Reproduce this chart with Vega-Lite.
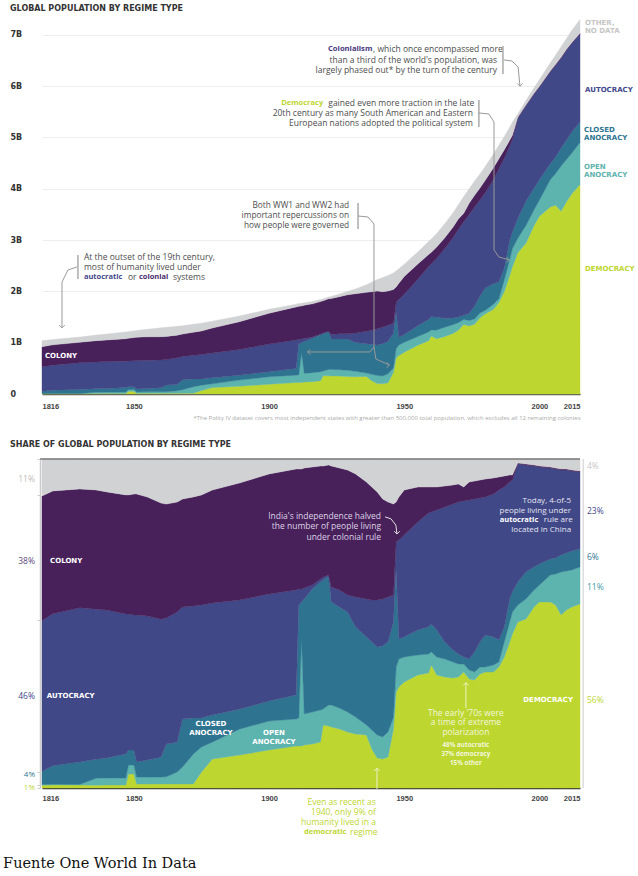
{
"$schema": "https://vega.github.io/schema/vega-lite/v6.json",
"padding": {"left": 3, "top": 4, "right": 0, "bottom": 0},
"config": {"view": {"stroke": null}, "font": "Open Sans"},
"spacing": 65,
"bounds": "flush",
"datasets": {
"regimes": [{"regime":"Democracy","rank":1},{"regime":"Open anocracy","rank":2},{"regime":"Closed anocracy","rank":3},{"regime":"Autocracy","rank":4},{"regime":"Colony","rank":5},{"regime":"Other","rank":6}],
"pop": [
{"year":1816,"regime":"Democracy","pop":9},{"year":1816,"regime":"Open anocracy","pop":2},{"year":1816,"regime":"Closed anocracy","pop":41},{"year":1816,"regime":"Autocracy","pop":477},{"year":1816,"regime":"Colony","pop":394},{"year":1816,"regime":"Other","pop":117},
{"year":1820,"regime":"Democracy","pop":10},{"year":1820,"regime":"Open anocracy","pop":2},{"year":1820,"regime":"Closed anocracy","pop":60},{"year":1820,"regime":"Autocracy","pop":490},{"year":1820,"regime":"Colony","pop":396},{"year":1820,"regime":"Other","pop":103},
{"year":1830,"regime":"Democracy","pop":10},{"year":1830,"regime":"Open anocracy","pop":2},{"year":1830,"regime":"Closed anocracy","pop":76},{"year":1830,"regime":"Autocracy","pop":520},{"year":1830,"regime":"Colony","pop":401},{"year":1830,"regime":"Other","pop":101},
{"year":1836,"regime":"Democracy","pop":10},{"year":1836,"regime":"Open anocracy","pop":24},{"year":1836,"regime":"Closed anocracy","pop":66},{"year":1836,"regime":"Autocracy","pop":524},{"year":1836,"regime":"Colony","pop":416},{"year":1836,"regime":"Other","pop":108},
{"year":1840,"regime":"Democracy","pop":11},{"year":1840,"regime":"Open anocracy","pop":25},{"year":1840,"regime":"Closed anocracy","pop":71},{"year":1840,"regime":"Autocracy","pop":526},{"year":1840,"regime":"Colony","pop":420},{"year":1840,"regime":"Other","pop":117},
{"year":1847,"regime":"Democracy","pop":11},{"year":1847,"regime":"Open anocracy","pop":26},{"year":1847,"regime":"Closed anocracy","pop":88},{"year":1847,"regime":"Autocracy","pop":515},{"year":1847,"regime":"Colony","pop":438},{"year":1847,"regime":"Other","pop":132},
{"year":1848,"regime":"Democracy","pop":52},{"year":1848,"regime":"Open anocracy","pop":33},{"year":1848,"regime":"Closed anocracy","pop":56},{"year":1848,"regime":"Autocracy","pop":504},{"year":1848,"regime":"Colony","pop":441},{"year":1848,"regime":"Other","pop":133},
{"year":1850,"regime":"Democracy","pop":52},{"year":1850,"regime":"Open anocracy","pop":34},{"year":1850,"regime":"Closed anocracy","pop":56},{"year":1850,"regime":"Autocracy","pop":505},{"year":1850,"regime":"Colony","pop":452},{"year":1850,"regime":"Other","pop":131},
{"year":1851,"regime":"Democracy","pop":15},{"year":1851,"regime":"Open anocracy","pop":26},{"year":1851,"regime":"Closed anocracy","pop":57},{"year":1851,"regime":"Autocracy","pop":554},{"year":1851,"regime":"Colony","pop":456},{"year":1851,"regime":"Other","pop":132},
{"year":1855,"regime":"Democracy","pop":15},{"year":1855,"regime":"Open anocracy","pop":27},{"year":1855,"regime":"Closed anocracy","pop":65},{"year":1855,"regime":"Autocracy","pop":552},{"year":1855,"regime":"Colony","pop":456},{"year":1855,"regime":"Other","pop":146},
{"year":1860,"regime":"Democracy","pop":16},{"year":1860,"regime":"Open anocracy","pop":27},{"year":1860,"regime":"Closed anocracy","pop":78},{"year":1860,"regime":"Autocracy","pop":541},{"year":1860,"regime":"Colony","pop":455},{"year":1860,"regime":"Other","pop":173},
{"year":1862,"regime":"Democracy","pop":16},{"year":1862,"regime":"Open anocracy","pop":28},{"year":1862,"regime":"Closed anocracy","pop":130},{"year":1862,"regime":"Autocracy","pop":498},{"year":1862,"regime":"Colony","pop":450},{"year":1862,"regime":"Other","pop":178},
{"year":1866,"regime":"Democracy","pop":16},{"year":1866,"regime":"Open anocracy","pop":48},{"year":1866,"regime":"Closed anocracy","pop":120},{"year":1866,"regime":"Autocracy","pop":522},{"year":1866,"regime":"Colony","pop":441},{"year":1866,"regime":"Other","pop":173},
{"year":1868,"regime":"Democracy","pop":16},{"year":1868,"regime":"Open anocracy","pop":69},{"year":1868,"regime":"Closed anocracy","pop":194},{"year":1868,"regime":"Autocracy","pop":453},{"year":1868,"regime":"Colony","pop":437},{"year":1868,"regime":"Other","pop":162},
{"year":1872,"regime":"Democracy","pop":17},{"year":1872,"regime":"Open anocracy","pop":124},{"year":1872,"regime":"Closed anocracy","pop":149},{"year":1872,"regime":"Autocracy","pop":463},{"year":1872,"regime":"Colony","pop":451},{"year":1872,"regime":"Other","pop":157},
{"year":1875,"regime":"Democracy","pop":67},{"year":1875,"regime":"Open anocracy","pop":105},{"year":1875,"regime":"Closed anocracy","pop":122},{"year":1875,"regime":"Autocracy","pop":474},{"year":1875,"regime":"Colony","pop":461},{"year":1875,"regime":"Other","pop":151},
{"year":1879,"regime":"Democracy","pop":125},{"year":1879,"regime":"Open anocracy","pop":73},{"year":1879,"regime":"Closed anocracy","pop":117},{"year":1879,"regime":"Autocracy","pop":483},{"year":1879,"regime":"Colony","pop":488},{"year":1879,"regime":"Other","pop":134},
{"year":1889,"regime":"Democracy","pop":152},{"year":1889,"regime":"Open anocracy","pop":120},{"year":1889,"regime":"Closed anocracy","pop":92},{"year":1889,"regime":"Autocracy","pop":504},{"year":1889,"regime":"Colony","pop":541},{"year":1889,"regime":"Other","pop":111},
{"year":1900,"regime":"Democracy","pop":191},{"year":1900,"regime":"Open anocracy","pop":145},{"year":1900,"regime":"Closed anocracy","pop":100},{"year":1900,"regime":"Autocracy","pop":537},{"year":1900,"regime":"Colony","pop":602},{"year":1900,"regime":"Other","pop":75},
{"year":1910,"regime":"Democracy","pop":223},{"year":1910,"regime":"Open anocracy","pop":144},{"year":1910,"regime":"Closed anocracy","pop":128},{"year":1910,"regime":"Autocracy","pop":559},{"year":1910,"regime":"Colony","pop":644},{"year":1910,"regime":"Other","pop":53},
{"year":1911,"regime":"Democracy","pop":225},{"year":1911,"regime":"Open anocracy","pop":150},{"year":1911,"regime":"Closed anocracy","pop":605},{"year":1911,"regime":"Autocracy","pop":86},{"year":1911,"regime":"Colony","pop":642},{"year":1911,"regime":"Other","pop":54},
{"year":1912,"regime":"Democracy","pop":226},{"year":1912,"regime":"Open anocracy","pop":576},{"year":1912,"regime":"Closed anocracy","pop":199},{"year":1912,"regime":"Autocracy","pop":70},{"year":1912,"regime":"Colony","pop":646},{"year":1912,"regime":"Other","pop":54},
{"year":1913,"regime":"Democracy","pop":233},{"year":1913,"regime":"Open anocracy","pop":168},{"year":1913,"regime":"Closed anocracy","pop":622},{"year":1913,"regime":"Autocracy","pop":60},{"year":1913,"regime":"Colony","pop":649},{"year":1913,"regime":"Other","pop":49},
{"year":1916,"regime":"Democracy","pop":241},{"year":1916,"regime":"Open anocracy","pop":175},{"year":1916,"regime":"Closed anocracy","pop":673},{"year":1916,"regime":"Autocracy","pop":22},{"year":1916,"regime":"Colony","pop":646},{"year":1916,"regime":"Other","pop":44},
{"year":1919,"regime":"Democracy","pop":257},{"year":1919,"regime":"Open anocracy","pop":179},{"year":1919,"regime":"Closed anocracy","pop":716},{"year":1919,"regime":"Autocracy","pop":17},{"year":1919,"regime":"Colony","pop":632},{"year":1919,"regime":"Other","pop":39},
{"year":1920,"regime":"Democracy","pop":356},{"year":1920,"regime":"Open anocracy","pop":90},{"year":1920,"regime":"Closed anocracy","pop":729},{"year":1920,"regime":"Autocracy","pop":17},{"year":1920,"regime":"Colony","pop":627},{"year":1920,"regime":"Other","pop":40},
{"year":1922,"regime":"Democracy","pop":356},{"year":1922,"regime":"Open anocracy","pop":121},{"year":1922,"regime":"Closed anocracy","pop":741},{"year":1922,"regime":"Autocracy","pop":6},{"year":1922,"regime":"Colony","pop":632},{"year":1922,"regime":"Other","pop":34},
{"year":1923,"regime":"Democracy","pop":352},{"year":1923,"regime":"Open anocracy","pop":127},{"year":1923,"regime":"Closed anocracy","pop":595},{"year":1923,"regime":"Autocracy","pop":87},{"year":1923,"regime":"Colony","pop":699},{"year":1923,"regime":"Other","pop":40},
{"year":1926,"regime":"Democracy","pop":350},{"year":1926,"regime":"Open anocracy","pop":124},{"year":1926,"regime":"Closed anocracy","pop":599},{"year":1926,"regime":"Autocracy","pop":101},{"year":1926,"regime":"Colony","pop":723},{"year":1926,"regime":"Other","pop":53},
{"year":1929,"regime":"Democracy","pop":340},{"year":1929,"regime":"Open anocracy","pop":122},{"year":1929,"regime":"Closed anocracy","pop":608},{"year":1929,"regime":"Autocracy","pop":103},{"year":1929,"regime":"Colony","pop":760},{"year":1929,"regime":"Other","pop":67},
{"year":1932,"regime":"Democracy","pop":336},{"year":1932,"regime":"Open anocracy","pop":106},{"year":1932,"regime":"Closed anocracy","pop":561},{"year":1932,"regime":"Autocracy","pop":187},{"year":1932,"regime":"Colony","pop":766},{"year":1932,"regime":"Other","pop":93},
{"year":1936,"regime":"Democracy","pop":343},{"year":1936,"regime":"Open anocracy","pop":65},{"year":1936,"regime":"Closed anocracy","pop":570},{"year":1936,"regime":"Autocracy","pop":246},{"year":1936,"regime":"Colony","pop":757},{"year":1936,"regime":"Other","pop":149},
{"year":1938,"regime":"Democracy","pop":258},{"year":1938,"regime":"Open anocracy","pop":126},{"year":1938,"regime":"Closed anocracy","pop":583},{"year":1938,"regime":"Autocracy","pop":278},{"year":1938,"regime":"Colony","pop":749},{"year":1938,"regime":"Other","pop":186},
{"year":1940,"regime":"Democracy","pop":203},{"year":1940,"regime":"Open anocracy","pop":156},{"year":1940,"regime":"Closed anocracy","pop":596},{"year":1940,"regime":"Autocracy","pop":319},{"year":1940,"regime":"Colony","pop":732},{"year":1940,"regime":"Other","pop":224},
{"year":1942,"regime":"Democracy","pop":200},{"year":1942,"regime":"Open anocracy","pop":152},{"year":1942,"regime":"Closed anocracy","pop":628},{"year":1942,"regime":"Autocracy","pop":324},{"year":1942,"regime":"Colony","pop":690},{"year":1942,"regime":"Other","pop":276},
{"year":1944,"regime":"Democracy","pop":218},{"year":1944,"regime":"Open anocracy","pop":176},{"year":1944,"regime":"Closed anocracy","pop":632},{"year":1944,"regime":"Autocracy","pop":316},{"year":1944,"regime":"Colony","pop":667},{"year":1944,"regime":"Other","pop":302},
{"year":1946,"regime":"Democracy","pop":423},{"year":1946,"regime":"Open anocracy","pop":86},{"year":1946,"regime":"Closed anocracy","pop":681},{"year":1946,"regime":"Autocracy","pop":194},{"year":1946,"regime":"Colony","pop":653},{"year":1946,"regime":"Other","pop":323},
{"year":1947,"regime":"Democracy","pop":700},{"year":1947,"regime":"Open anocracy","pop":182},{"year":1947,"regime":"Closed anocracy","pop":715},{"year":1947,"regime":"Autocracy","pop":197},{"year":1947,"regime":"Colony","pop":292},{"year":1947,"regime":"Other","pop":314},
{"year":1948,"regime":"Democracy","pop":749},{"year":1948,"regime":"Open anocracy","pop":208},{"year":1948,"regime":"Closed anocracy","pop":148},{"year":1948,"regime":"Autocracy","pop":734},{"year":1948,"regime":"Colony","pop":319},{"year":1948,"regime":"Other","pop":282},
{"year":1950,"regime":"Democracy","pop":815},{"year":1950,"regime":"Open anocracy","pop":192},{"year":1950,"regime":"Closed anocracy","pop":154},{"year":1950,"regime":"Autocracy","pop":784},{"year":1950,"regime":"Colony","pop":346},{"year":1950,"regime":"Other","pop":238},
{"year":1955,"regime":"Democracy","pop":951},{"year":1955,"regime":"Open anocracy","pop":168},{"year":1955,"regime":"Closed anocracy","pop":210},{"year":1955,"regime":"Autocracy","pop":909},{"year":1955,"regime":"Colony","pop":295},{"year":1955,"regime":"Other","pop":236},
{"year":1959,"regime":"Democracy","pop":1038},{"year":1959,"regime":"Open anocracy","pop":172},{"year":1959,"regime":"Closed anocracy","pop":244},{"year":1959,"regime":"Autocracy","pop":1029},{"year":1959,"regime":"Colony","pop":235},{"year":1959,"regime":"Other","pop":253},
{"year":1960,"regime":"Democracy","pop":1129},{"year":1960,"regime":"Open anocracy","pop":119},{"year":1960,"regime":"Closed anocracy","pop":257},{"year":1960,"regime":"Autocracy","pop":1028},{"year":1960,"regime":"Colony","pop":229},{"year":1960,"regime":"Other","pop":257},
{"year":1962,"regime":"Democracy","pop":1075},{"year":1962,"regime":"Open anocracy","pop":171},{"year":1962,"regime":"Closed anocracy","pop":257},{"year":1962,"regime":"Autocracy","pop":1142},{"year":1962,"regime":"Colony","pop":219},{"year":1962,"regime":"Other","pop":266},
{"year":1965,"regime":"Democracy","pop":1120},{"year":1965,"regime":"Open anocracy","pop":182},{"year":1965,"regime":"Closed anocracy","pop":172},{"year":1965,"regime":"Autocracy","pop":1362},{"year":1965,"regime":"Colony","pop":212},{"year":1965,"regime":"Other","pop":272},
{"year":1968,"regime":"Democracy","pop":1180},{"year":1968,"regime":"Open anocracy","pop":172},{"year":1968,"regime":"Closed anocracy","pop":129},{"year":1968,"regime":"Autocracy","pop":1566},{"year":1968,"regime":"Colony","pop":204},{"year":1968,"regime":"Other","pop":279},
{"year":1970,"regime":"Democracy","pop":1245},{"year":1970,"regime":"Open anocracy","pop":146},{"year":1970,"regime":"Closed anocracy","pop":112},{"year":1970,"regime":"Autocracy","pop":1705},{"year":1970,"regime":"Colony","pop":202},{"year":1970,"regime":"Other","pop":280},
{"year":1972,"regime":"Democracy","pop":1357},{"year":1972,"regime":"Open anocracy","pop":94},{"year":1972,"regime":"Closed anocracy","pop":82},{"year":1972,"regime":"Autocracy","pop":1826},{"year":1972,"regime":"Colony","pop":164},{"year":1972,"regime":"Other","pop":328},
{"year":1974,"regime":"Democracy","pop":1325},{"year":1974,"regime":"Open anocracy","pop":109},{"year":1974,"regime":"Closed anocracy","pop":134},{"year":1974,"regime":"Autocracy","pop":1933},{"year":1974,"regime":"Colony","pop":219},{"year":1974,"regime":"Other","pop":280},
{"year":1976,"regime":"Democracy","pop":1362},{"year":1976,"regime":"Open anocracy","pop":101},{"year":1976,"regime":"Closed anocracy","pop":252},{"year":1976,"regime":"Autocracy","pop":1930},{"year":1976,"regime":"Colony","pop":227},{"year":1976,"regime":"Other","pop":278},
{"year":1978,"regime":"Democracy","pop":1486},{"year":1978,"regime":"Open anocracy","pop":91},{"year":1978,"regime":"Closed anocracy","pop":326},{"year":1978,"regime":"Autocracy","pop":1878},{"year":1978,"regime":"Colony","pop":235},{"year":1978,"regime":"Other","pop":274},
{"year":1980,"regime":"Democracy","pop":1565},{"year":1980,"regime":"Open anocracy","pop":67},{"year":1980,"regime":"Closed anocracy","pop":432},{"year":1980,"regime":"Autocracy","pop":1862},{"year":1980,"regime":"Colony","pop":243},{"year":1980,"regime":"Other","pop":270},
{"year":1983,"regime":"Democracy","pop":1650},{"year":1983,"regime":"Open anocracy","pop":100},{"year":1983,"regime":"Closed anocracy","pop":398},{"year":1983,"regime":"Autocracy","pop":2034},{"year":1983,"regime":"Colony","pop":228},{"year":1983,"regime":"Other","pop":270},
{"year":1985,"regime":"Democracy","pop":1784},{"year":1985,"regime":"Open anocracy","pop":74},{"year":1985,"regime":"Closed anocracy","pop":324},{"year":1985,"regime":"Autocracy","pop":2211},{"year":1985,"regime":"Colony","pop":192},{"year":1985,"regime":"Other","pop":265},
{"year":1987,"regime":"Democracy","pop":1999},{"year":1987,"regime":"Open anocracy","pop":229},{"year":1987,"regime":"Closed anocracy","pop":229},{"year":1987,"regime":"Autocracy","pop":2136},{"year":1987,"regime":"Colony","pop":168},{"year":1987,"regime":"Other","pop":259},
{"year":1989,"regime":"Democracy","pop":2308},{"year":1989,"regime":"Open anocracy","pop":316},{"year":1989,"regime":"Closed anocracy","pop":364},{"year":1989,"regime":"Autocracy","pop":1849},{"year":1989,"regime":"Colony","pop":111},{"year":1989,"regime":"Other","pop":253},
{"year":1990,"regime":"Democracy","pop":2481},{"year":1990,"regime":"Open anocracy","pop":354},{"year":1990,"regime":"Closed anocracy","pop":322},{"year":1990,"regime":"Autocracy","pop":1804},{"year":1990,"regime":"Colony","pop":81},{"year":1990,"regime":"Other","pop":258},
{"year":1992,"regime":"Democracy","pop":2755},{"year":1992,"regime":"Open anocracy","pop":282},{"year":1992,"regime":"Closed anocracy","pop":382},{"year":1992,"regime":"Autocracy","pop":1958},{"year":1992,"regime":"Colony","pop":17},{"year":1992,"regime":"Other","pop":66},
{"year":1995,"regime":"Democracy","pop":2938},{"year":1995,"regime":"Open anocracy","pop":348},{"year":1995,"regime":"Closed anocracy","pop":469},{"year":1995,"regime":"Autocracy","pop":1860},{"year":1995,"regime":"Colony","pop":17},{"year":1995,"regime":"Other","pop":87},
{"year":1998,"regime":"Democracy","pop":3284},{"year":1998,"regime":"Open anocracy","pop":308},{"year":1998,"regime":"Closed anocracy","pop":417},{"year":1998,"regime":"Autocracy","pop":1833},{"year":1998,"regime":"Colony","pop":18},{"year":1998,"regime":"Other","pop":109},
{"year":2000,"regime":"Democracy","pop":3466},{"year":2000,"regime":"Open anocracy","pop":317},{"year":2000,"regime":"Closed anocracy","pop":391},{"year":2000,"regime":"Autocracy","pop":1807},{"year":2000,"regime":"Colony","pop":19},{"year":2000,"regime":"Other","pop":130},
{"year":2004,"regime":"Democracy","pop":3647},{"year":2004,"regime":"Open anocracy","pop":529},{"year":2004,"regime":"Closed anocracy","pop":314},{"year":2004,"regime":"Autocracy","pop":1784},{"year":2004,"regime":"Colony","pop":20},{"year":2004,"regime":"Other","pop":157},
{"year":2006,"regime":"Democracy","pop":3677},{"year":2006,"regime":"Open anocracy","pop":623},{"year":2006,"regime":"Closed anocracy","pop":321},{"year":2006,"regime":"Autocracy","pop":1788},{"year":2006,"regime":"Colony","pop":20},{"year":2006,"regime":"Other","pop":181},
{"year":2008,"regime":"Democracy","pop":3560},{"year":2008,"regime":"Open anocracy","pop":885},{"year":2008,"regime":"Closed anocracy","pop":350},{"year":2008,"regime":"Autocracy","pop":1749},{"year":2008,"regime":"Colony","pop":21},{"year":2008,"regime":"Other","pop":206},
{"year":2010,"regime":"Democracy","pop":3749},{"year":2010,"regime":"Open anocracy","pop":822},{"year":2010,"regime":"Closed anocracy","pop":379},{"year":2010,"regime":"Autocracy","pop":1748},{"year":2010,"regime":"Colony","pop":21},{"year":2010,"regime":"Other","pop":211},
{"year":2012,"regime":"Democracy","pop":3901},{"year":2012,"regime":"Open anocracy","pop":797},{"year":2012,"regime":"Closed anocracy","pop":409},{"year":2012,"regime":"Autocracy","pop":1724},{"year":2012,"regime":"Colony","pop":22},{"year":2012,"regime":"Other","pop":237},
{"year":2015,"regime":"Democracy","pop":4083},{"year":2015,"regime":"Open anocracy","pop":821},{"year":2015,"regime":"Closed anocracy","pop":399},{"year":2015,"regime":"Autocracy","pop":1708},{"year":2015,"regime":"Colony","pop":22},{"year":2015,"regime":"Other","pop":266}
]
},
"vconcat": [
{
"title": {"text": "GLOBAL POPULATION BY REGIME TYPE", "anchor": "start", "frame": "group", "dx": -32, "offset": 6, "font": "DejaVu Sans", "fontSize": 8, "fontWeight": "bold", "color": "#333333"},
"width": 538, "height": 374,
"layer": [
{"data": {"name": "pop"},
 "transform": [{"lookup": "regime", "from": {"data": {"name": "regimes"}, "key": "regime", "fields": ["rank"]}}],
 "mark": {"type": "area", "strokeWidth": 0.4},
 "encoding": {
  "x": {"field": "year", "type": "quantitative", "scale": {"domain": [1816, 2015], "nice": false, "zero": false},
        "axis": {"values": [1816, 1850, 1900, 1950, 2000, 2015], "format": "d", "ticks": false, "domainColor": "#555555", "domainWidth": 1.5, "labelFont": "Liberation Sans", "labelFontWeight": "bold", "labelFontSize": 7.5, "labelColor": "#444444", "labelPadding": 8, "labelOverlap": false, "grid": false,
                 "title": "*The Polity IV dataset covers most independent states with greater than 500,000 total population, which excludes all 12 remaining colonies", "titleAnchor": "end", "titleFont": "Open Sans", "titleFontSize": 6, "titleFontWeight": "normal", "titleColor": "#aaaaaa", "titlePadding": 5}},
  "y": {"field": "pop", "type": "quantitative", "stack": "zero", "scale": {"domain": [0, 7290], "nice": false},
        "axis": {"values": [0, 1000, 2000, 3000, 4000, 5000, 6000, 7000], "labelExpr": "datum.value == 0 ? '0' : (datum.value / 1000) + 'B'", "labelAlign": "left", "labelPadding": 32, "ticks": false, "domain": false, "grid": true, "gridColor": "#eeeeee", "labelFont": "DejaVu Sans", "labelFontWeight": "bold", "labelFontSize": 8, "labelColor": "#333333", "title": null}},
  "color": {"field": "regime", "type": "nominal", "scale": {"domain": ["Democracy", "Open anocracy", "Closed anocracy", "Autocracy", "Colony", "Other"], "range": ["#bdd630", "#5db3ae", "#2e7491", "#414887", "#48205a", "#d1d2d4"]}, "legend": null},
  "stroke": {"field": "regime", "type": "nominal", "scale": {"domain": ["Democracy", "Open anocracy", "Closed anocracy", "Autocracy", "Colony", "Other"], "range": ["#bdd630", "#5db3ae", "#2e7491", "#414887", "#48205a", "#d1d2d4"]}, "legend": null},
  "order": {"field": "rank", "type": "quantitative"}
 }},
{"data": {"values": [{}]}, "mark": {"type": "text", "text": "Colonialism", "align": "left", "baseline": "middle", "fontSize": 7.6, "fontWeight": "bold", "color": "#45357d"}, "encoding": {"x": {"datum": 1921.8}, "y": {"datum": 6725}}},
{"data": {"values": [{}]}, "mark": {"type": "text", "text": ", which once encompassed more", "align": "left", "baseline": "middle", "fontSize": 8.5, "color": "#4d4d4d", "dx": 45}, "encoding": {"x": {"datum": 1921.8}, "y": {"datum": 6725}}},
{"data": {"values": [{}]}, "mark": {"type": "text", "text": ["than a third of the world's population, was", "largely phased out* by the turn of the century"], "align": "right", "baseline": "middle", "fontSize": 8.5, "lineHeight": 10.5, "color": "#4d4d4d"}, "encoding": {"x": {"datum": 1984.3}, "y": {"datum": 6520}}},
{"data": {"values": [{}]}, "mark": {"type": "text", "text": "Democracy", "align": "left", "baseline": "middle", "fontSize": 7.5, "fontWeight": "bold", "color": "#bdd630"}, "encoding": {"x": {"datum": 1904.5}, "y": {"datum": 5673}}},
{"data": {"values": [{}]}, "mark": {"type": "text", "text": "gained even more traction in the late", "align": "left", "baseline": "middle", "fontSize": 8.5, "color": "#4d4d4d", "dx": 47}, "encoding": {"x": {"datum": 1904.5}, "y": {"datum": 5673}}},
{"data": {"values": [{}]}, "mark": {"type": "text", "text": ["20th century as many South American and Eastern", "European nations adopted the political system"], "align": "right", "baseline": "middle", "fontSize": 8.5, "lineHeight": 10, "color": "#4d4d4d"}, "encoding": {"x": {"datum": 1975.4}, "y": {"datum": 5478}}},
{"data": {"values": [{}]}, "mark": {"type": "text", "text": ["Both WW1 and WW2 had", "important repercussions on", "how people were governed"], "align": "right", "baseline": "middle", "fontSize": 8.3, "lineHeight": 10, "color": "#4d4d4d"}, "encoding": {"x": {"datum": 1929.6}, "y": {"datum": 3665}}},
{"data": {"values": [{}]}, "mark": {"type": "text", "text": ["At the outset of the 19th century,", "most of humanity lived under"], "align": "left", "baseline": "middle", "fontSize": 8.5, "lineHeight": 10, "color": "#4d4d4d"}, "encoding": {"x": {"datum": 1831.5}, "y": {"datum": 2671}}},
{"data": {"values": [{}]}, "mark": {"type": "text", "text": "autocratic", "align": "left", "baseline": "middle", "fontSize": 7.5, "fontWeight": "bold", "color": "#3f478a"}, "encoding": {"x": {"datum": 1831.5}, "y": {"datum": 2281}}},
{"data": {"values": [{}]}, "mark": {"type": "text", "text": "or", "align": "left", "baseline": "middle", "fontSize": 8.5, "color": "#4d4d4d", "dx": 44}, "encoding": {"x": {"datum": 1831.5}, "y": {"datum": 2281}}},
{"data": {"values": [{}]}, "mark": {"type": "text", "text": "colonial", "align": "left", "baseline": "middle", "fontSize": 7.5, "fontWeight": "bold", "color": "#4a2a6e", "dx": 55}, "encoding": {"x": {"datum": 1831.5}, "y": {"datum": 2281}}},
{"data": {"values": [{}]}, "mark": {"type": "text", "text": "systems", "align": "left", "baseline": "middle", "fontSize": 8.5, "color": "#4d4d4d", "dx": 89}, "encoding": {"x": {"datum": 1831.5}, "y": {"datum": 2281}}},
{"data": {"values": [{}]}, "mark": {"type": "text", "text": ["OTHER,", "NO DATA"], "align": "left", "baseline": "middle", "font": "DejaVu Sans", "fontSize": 7, "fontWeight": "bold", "lineHeight": 8.5, "color": "#c6c6c6", "dx": 5}, "encoding": {"x": {"datum": 2015}, "y": {"datum": 7232}}},
{"data": {"values": [{}]}, "mark": {"type": "text", "text": "AUTOCRACY", "align": "left", "baseline": "middle", "font": "DejaVu Sans", "fontSize": 7, "fontWeight": "bold", "color": "#3f478a", "dx": 5}, "encoding": {"x": {"datum": 2015}, "y": {"datum": 5926}}},
{"data": {"values": [{}]}, "mark": {"type": "text", "text": ["CLOSED", "ANOCRACY"], "align": "left", "baseline": "middle", "font": "DejaVu Sans", "fontSize": 7, "fontWeight": "bold", "lineHeight": 8.5, "color": "#2e7491", "dx": 4}, "encoding": {"x": {"datum": 2015}, "y": {"datum": 5146}}},
{"data": {"values": [{}]}, "mark": {"type": "text", "text": ["OPEN", "ANOCRACY"], "align": "left", "baseline": "middle", "font": "DejaVu Sans", "fontSize": 7, "fontWeight": "bold", "lineHeight": 8.5, "color": "#5db3ae", "dx": 4}, "encoding": {"x": {"datum": 2015}, "y": {"datum": 4425}}},
{"data": {"values": [{}]}, "mark": {"type": "text", "text": "DEMOCRACY", "align": "left", "baseline": "middle", "font": "DejaVu Sans", "fontSize": 7, "fontWeight": "bold", "color": "#bdd630", "dx": 5}, "encoding": {"x": {"datum": 2015}, "y": {"datum": 2437}}},
{"data": {"values": [{}]}, "mark": {"type": "text", "text": "COLONY", "align": "left", "baseline": "middle", "font": "DejaVu Sans", "fontSize": 7, "fontWeight": "bold", "color": "#ffffff"}, "encoding": {"x": {"datum": 1817.1}, "y": {"datum": 741}}},
{"data": {"values": [{}]}, "mark": {"type": "rule", "color": "#aaaaaa", "strokeWidth": 1.5}, "encoding": {"x": {"datum": 1986.5}, "y": {"datum": 6784}, "y2": {"datum": 6238}}},
{"data": {"values": [{}]}, "mark": {"type": "rule", "color": "#aaaaaa", "strokeWidth": 1.5}, "encoding": {"x": {"datum": 1977.6}, "y": {"datum": 5731}, "y2": {"datum": 5205}}},
{"data": {"values": [{}]}, "mark": {"type": "rule", "color": "#aaaaaa", "strokeWidth": 1.5}, "encoding": {"x": {"datum": 1932.9}, "y": {"datum": 3723}, "y2": {"datum": 3216}}},
{"data": {"values": [{}]}, "mark": {"type": "rule", "color": "#aaaaaa", "strokeWidth": 1.5}, "encoding": {"x": {"datum": 1829.3}, "y": {"datum": 2710}, "y2": {"datum": 2242}}},
{"data": {"values": [{}]}, "mark": {"type": "rule", "color": "#999999", "strokeWidth": 1}, "encoding": {"x": {"datum": 1986.9}, "y": {"datum": 6511}, "x2": {"datum": 1989.8}, "y2": {"datum": 6491}}},
{"data": {"values": [{}]}, "mark": {"type": "rule", "color": "#999999", "strokeWidth": 1}, "encoding": {"x": {"datum": 1989.8}, "y": {"datum": 6491}, "x2": {"datum": 1992.1}, "y2": {"datum": 6374}}},
{"data": {"values": [{}]}, "mark": {"type": "rule", "color": "#999999", "strokeWidth": 1}, "encoding": {"x": {"datum": 1992.1}, "y": {"datum": 6374}, "x2": {"datum": 1992.8}, "y2": {"datum": 6000}}},
{"data": {"values": [{}]}, "mark": {"type": "rule", "color": "#999999", "strokeWidth": 1}, "encoding": {"x": {"datum": 1977.6}, "y": {"datum": 5478}, "x2": {"datum": 1981.3}, "y2": {"datum": 5458}}},
{"data": {"values": [{}]}, "mark": {"type": "rule", "color": "#999999", "strokeWidth": 1}, "encoding": {"x": {"datum": 1981.3}, "y": {"datum": 5458}, "x2": {"datum": 1983.2}, "y2": {"datum": 5302}}},
{"data": {"values": [{}]}, "mark": {"type": "rule", "color": "#999999", "strokeWidth": 1}, "encoding": {"x": {"datum": 1983.2}, "y": {"datum": 5302}, "x2": {"datum": 1983.2}, "y2": {"datum": 2807}}},
{"data": {"values": [{}]}, "mark": {"type": "rule", "color": "#999999", "strokeWidth": 1}, "encoding": {"x": {"datum": 1983.2}, "y": {"datum": 2807}, "x2": {"datum": 1985.0}, "y2": {"datum": 2671}}},
{"data": {"values": [{}]}, "mark": {"type": "rule", "color": "#999999", "strokeWidth": 1}, "encoding": {"x": {"datum": 1985.0}, "y": {"datum": 2671}, "x2": {"datum": 1988.9}, "y2": {"datum": 2612}}},
{"data": {"values": [{}]}, "mark": {"type": "rule", "color": "#999999", "strokeWidth": 1}, "encoding": {"x": {"datum": 1932.9}, "y": {"datum": 3470}, "x2": {"datum": 1936.6}, "y2": {"datum": 3450}}},
{"data": {"values": [{}]}, "mark": {"type": "rule", "color": "#999999", "strokeWidth": 1}, "encoding": {"x": {"datum": 1936.6}, "y": {"datum": 3450}, "x2": {"datum": 1938.8}, "y2": {"datum": 3314}}},
{"data": {"values": [{}]}, "mark": {"type": "rule", "color": "#999999", "strokeWidth": 1}, "encoding": {"x": {"datum": 1938.8}, "y": {"datum": 3314}, "x2": {"datum": 1938.8}, "y2": {"datum": 916}}},
{"data": {"values": [{}]}, "mark": {"type": "rule", "color": "#999999", "strokeWidth": 1}, "encoding": {"x": {"datum": 1938.8}, "y": {"datum": 916}, "x2": {"datum": 1937.3}, "y2": {"datum": 819}}},
{"data": {"values": [{}]}, "mark": {"type": "rule", "color": "#999999", "strokeWidth": 1}, "encoding": {"x": {"datum": 1937.3}, "y": {"datum": 819}, "x2": {"datum": 1914.2}, "y2": {"datum": 819}}},
{"data": {"values": [{}]}, "mark": {"type": "rule", "color": "#999999", "strokeWidth": 1}, "encoding": {"x": {"datum": 1938.8}, "y": {"datum": 916}, "x2": {"datum": 1939.5}, "y2": {"datum": 682}}},
{"data": {"values": [{}]}, "mark": {"type": "rule", "color": "#999999", "strokeWidth": 1}, "encoding": {"x": {"datum": 1939.5}, "y": {"datum": 682}, "x2": {"datum": 1944.5}, "y2": {"datum": 565}}},
{"data": {"values": [{}]}, "mark": {"type": "rule", "color": "#999999", "strokeWidth": 1}, "encoding": {"x": {"datum": 1828.9}, "y": {"datum": 2476}, "x2": {"datum": 1825.6}, "y2": {"datum": 2417}}},
{"data": {"values": [{}]}, "mark": {"type": "rule", "color": "#999999", "strokeWidth": 1}, "encoding": {"x": {"datum": 1825.6}, "y": {"datum": 2417}, "x2": {"datum": 1823.4}, "y2": {"datum": 2183}}},
{"data": {"values": [{}]}, "mark": {"type": "rule", "color": "#999999", "strokeWidth": 1}, "encoding": {"x": {"datum": 1823.4}, "y": {"datum": 2183}, "x2": {"datum": 1823.4}, "y2": {"datum": 1290}}},
{"data": {"values": [{}]}, "mark": {"type": "point", "shape": "M-1,-1L0,0L1,-1", "size": 30, "filled": false, "stroke": "#999999", "strokeWidth": 1, "opacity": 1}, "encoding": {"x": {"datum": 1992.8}, "y": {"datum": 6000}}},
{"data": {"values": [{}]}, "mark": {"type": "point", "shape": "M-1,-1L0,0L1,-1", "size": 30, "filled": false, "stroke": "#999999", "strokeWidth": 1, "opacity": 1, "angle": 270}, "encoding": {"x": {"datum": 1988.9}, "y": {"datum": 2612}}},
{"data": {"values": [{}]}, "mark": {"type": "point", "shape": "M-1,-1L0,0L1,-1", "size": 30, "filled": false, "stroke": "#999999", "strokeWidth": 1, "opacity": 1, "angle": 90}, "encoding": {"x": {"datum": 1914.2}, "y": {"datum": 819}}},
{"data": {"values": [{}]}, "mark": {"type": "point", "shape": "M-1,-1L0,0L1,-1", "size": 30, "filled": false, "stroke": "#999999", "strokeWidth": 1, "opacity": 1, "angle": 270}, "encoding": {"x": {"datum": 1944.5}, "y": {"datum": 565}}},
{"data": {"values": [{}]}, "mark": {"type": "point", "shape": "M-1,-1L0,0L1,-1", "size": 30, "filled": false, "stroke": "#999999", "strokeWidth": 1, "opacity": 1}, "encoding": {"x": {"datum": 1823.4}, "y": {"datum": 1290}}}
]
},
{
"title": {"text": "SHARE OF GLOBAL POPULATION BY REGIME TYPE", "anchor": "start", "frame": "group", "dx": -32, "offset": 9, "font": "DejaVu Sans", "fontSize": 8, "fontWeight": "bold", "color": "#333333"},
"width": 538, "height": 329,
"layer": [
{"data": {"name": "pop"},
 "transform": [{"lookup": "regime", "from": {"data": {"name": "regimes"}, "key": "regime", "fields": ["rank"]}}],
 "mark": {"type": "area", "strokeWidth": 0.4},
 "encoding": {
  "x": {"field": "year", "type": "quantitative", "scale": {"domain": [1816, 2015], "nice": false, "zero": false},
        "axis": {"values": [1816, 1850, 1900, 1950, 2000, 2015], "format": "d", "ticks": false, "domainColor": "#333333", "domainWidth": 1.5, "labelFont": "Liberation Sans", "labelFontWeight": "bold", "labelFontSize": 7.5, "labelColor": "#444444", "labelPadding": 6, "labelOverlap": false, "grid": false, "title": null}},
  "y": {"field": "pop", "type": "quantitative", "stack": "normalize", "scale": {"domain": [0, 1], "nice": false},
        "axis": {"values": [0, 0.01, 0.05, 0.51, 0.89, 1], "labels": false, "tickSize": 3, "tickColor": "#cccccc", "domainColor": "#cccccc", "domainWidth": 1.5, "grid": false, "title": null, "offset": 2}},
  "color": {"field": "regime", "type": "nominal", "scale": {"domain": ["Democracy", "Open anocracy", "Closed anocracy", "Autocracy", "Colony", "Other"], "range": ["#bdd630", "#5db3ae", "#2e7491", "#414887", "#48205a", "#d1d2d4"]}, "legend": null},
  "stroke": {"field": "regime", "type": "nominal", "scale": {"domain": ["Democracy", "Open anocracy", "Closed anocracy", "Autocracy", "Colony", "Other"], "range": ["#bdd630", "#5db3ae", "#2e7491", "#414887", "#48205a", "#d1d2d4"]}, "legend": null},
  "order": {"field": "rank", "type": "quantitative"}
 }},
{"data": {"values": [{}]}, "mark": {"type": "rule", "color": "#777777", "strokeWidth": 1.5}, "encoding": {"x": {"datum": 1815.3}, "x2": {"datum": 2015}, "y": {"datum": 1}}},
{"data": {"values": [{}]}, "mark": {"type": "rule", "color": "#dddddd", "strokeWidth": 1.5}, "encoding": {"x": {"datum": 2016.2}, "y": {"datum": 0}, "y2": {"datum": 1}}},
{"data": {"values": [{}]}, "mark": {"type": "text", "text": "11%", "align": "right", "baseline": "middle", "fontSize": 8.5, "color": "#bdbdbd", "dx": -7}, "encoding": {"x": {"datum": 1816}, "y": {"datum": 0.939}}},
{"data": {"values": [{}]}, "mark": {"type": "text", "text": "38%", "align": "right", "baseline": "middle", "fontSize": 8.5, "color": "#5b4a78", "dx": -7}, "encoding": {"x": {"datum": 1816}, "y": {"datum": 0.69}}},
{"data": {"values": [{}]}, "mark": {"type": "text", "text": "46%", "align": "right", "baseline": "middle", "fontSize": 8.5, "color": "#3f478a", "dx": -7}, "encoding": {"x": {"datum": 1816}, "y": {"datum": 0.28}}},
{"data": {"values": [{}]}, "mark": {"type": "text", "text": "4%", "align": "right", "baseline": "middle", "fontSize": 8, "color": "#2e7491", "dx": -7}, "encoding": {"x": {"datum": 1816}, "y": {"datum": 0.038}}},
{"data": {"values": [{}]}, "mark": {"type": "text", "text": "1%", "align": "right", "baseline": "middle", "fontSize": 8, "color": "#bdd630", "dx": -7}, "encoding": {"x": {"datum": 1816}, "y": {"datum": -0.001}}},
{"data": {"values": [{}]}, "mark": {"type": "text", "text": "4%", "align": "left", "baseline": "middle", "fontSize": 8.5, "color": "#c8c8c8", "dx": 7}, "encoding": {"x": {"datum": 2015}, "y": {"datum": 0.979}}},
{"data": {"values": [{}]}, "mark": {"type": "text", "text": "23%", "align": "left", "baseline": "middle", "fontSize": 8.5, "color": "#3f478a", "dx": 7}, "encoding": {"x": {"datum": 2015}, "y": {"datum": 0.842}}},
{"data": {"values": [{}]}, "mark": {"type": "text", "text": "6%", "align": "left", "baseline": "middle", "fontSize": 8.5, "color": "#2e7491", "dx": 7}, "encoding": {"x": {"datum": 2015}, "y": {"datum": 0.702}}},
{"data": {"values": [{}]}, "mark": {"type": "text", "text": "11%", "align": "left", "baseline": "middle", "fontSize": 8.5, "color": "#3f9aa5", "dx": 7}, "encoding": {"x": {"datum": 2015}, "y": {"datum": 0.611}}},
{"data": {"values": [{}]}, "mark": {"type": "text", "text": "56%", "align": "left", "baseline": "middle", "fontSize": 8.5, "color": "#bdd630", "dx": 7}, "encoding": {"x": {"datum": 2015}, "y": {"datum": 0.267}}},
{"data": {"values": [{}]}, "mark": {"type": "text", "text": "COLONY", "align": "left", "baseline": "middle", "font": "DejaVu Sans", "fontSize": 7, "fontWeight": "bold", "color": "#ffffff"}, "encoding": {"x": {"datum": 1819}, "y": {"datum": 0.69}}},
{"data": {"values": [{}]}, "mark": {"type": "text", "text": "AUTOCRACY", "align": "left", "baseline": "middle", "font": "DejaVu Sans", "fontSize": 7, "fontWeight": "bold", "color": "#ffffff"}, "encoding": {"x": {"datum": 1817.8}, "y": {"datum": 0.28}}},
{"data": {"values": [{}]}, "mark": {"type": "text", "text": ["CLOSED", "ANOCRACY"], "align": "center", "baseline": "middle", "font": "DejaVu Sans", "fontSize": 7, "fontWeight": "bold", "lineHeight": 9, "color": "#ffffff"}, "encoding": {"x": {"datum": 1878.5}, "y": {"datum": 0.195}}},
{"data": {"values": [{}]}, "mark": {"type": "text", "text": ["OPEN", "ANOCRACY"], "align": "center", "baseline": "middle", "font": "DejaVu Sans", "fontSize": 7, "fontWeight": "bold", "lineHeight": 9, "color": "#ffffff"}, "encoding": {"x": {"datum": 1901.8}, "y": {"datum": 0.167}}},
{"data": {"values": [{}]}, "mark": {"type": "text", "text": "DEMOCRACY", "align": "right", "baseline": "middle", "font": "DejaVu Sans", "fontSize": 7, "fontWeight": "bold", "color": "#ffffff"}, "encoding": {"x": {"datum": 2012.4}, "y": {"datum": 0.267}}},
{"data": {"values": [{}]}, "mark": {"type": "text", "text": ["India's independence halved", "the number of people living", "under colonial rule"], "align": "right", "baseline": "middle", "fontSize": 8.5, "lineHeight": 10.5, "color": "#ddd3e6"}, "encoding": {"x": {"datum": 1941.4}, "y": {"datum": 0.827}}},
{"data": {"values": [{}]}, "mark": {"type": "text", "text": ["Today, 4-of-5", "people living under"], "align": "right", "baseline": "middle", "fontSize": 8, "lineHeight": 9.6, "color": "#e4e4f2"}, "encoding": {"x": {"datum": 2011.7}, "y": {"datum": 0.872}}},
{"data": {"values": [{}]}, "mark": {"type": "text", "text": "autocratic", "align": "left", "baseline": "middle", "fontSize": 7.5, "fontWeight": "bold", "color": "#ffffff"}, "encoding": {"x": {"datum": 1985.3}, "y": {"datum": 0.814}}},
{"data": {"values": [{}]}, "mark": {"type": "text", "text": "rule are", "align": "left", "baseline": "middle", "fontSize": 8, "color": "#e4e4f2", "dx": 44}, "encoding": {"x": {"datum": 1985.3}, "y": {"datum": 0.814}}},
{"data": {"values": [{}]}, "mark": {"type": "text", "text": "located in China", "align": "right", "baseline": "middle", "fontSize": 8, "color": "#e4e4f2"}, "encoding": {"x": {"datum": 2011.7}, "y": {"datum": 0.785}}},
{"data": {"values": [{}]}, "mark": {"type": "text", "text": ["The early '70s were", "a time of extreme", "polarization"], "align": "center", "baseline": "middle", "fontSize": 8.5, "lineHeight": 9.5, "color": "#f4f7dc"}, "encoding": {"x": {"datum": 1972.8}, "y": {"datum": 0.228}}},
{"data": {"values": [{}]}, "mark": {"type": "text", "text": ["48% autocratic", "37% democracy", "15% other"], "align": "center", "baseline": "middle", "fontSize": 6.3, "fontWeight": "bold", "lineHeight": 9, "color": "#f4f7dc"}, "encoding": {"x": {"datum": 1972.8}, "y": {"datum": 0.131}}},
{"data": {"values": [{}]}, "mark": {"type": "text", "text": ["Even as recent as", "1940, only 9% of", "humanity lived in a"], "align": "right", "baseline": "middle", "fontSize": 8.5, "lineHeight": 10, "color": "#bdd630"}, "encoding": {"x": {"datum": 1939.5}, "y": {"datum": -0.043}}},
{"data": {"values": [{}]}, "mark": {"type": "text", "text": "democratic", "align": "left", "baseline": "middle", "fontSize": 7.5, "fontWeight": "bold", "color": "#bdd630"}, "encoding": {"x": {"datum": 1912.9}, "y": {"datum": -0.134}}},
{"data": {"values": [{}]}, "mark": {"type": "text", "text": "regime", "align": "left", "baseline": "middle", "fontSize": 8.5, "color": "#bdd630", "dx": 46}, "encoding": {"x": {"datum": 1912.9}, "y": {"datum": -0.134}}},
{"data": {"values": [{}]}, "mark": {"type": "rule", "color": "#e0e0e0", "strokeWidth": 1}, "encoding": {"x": {"datum": 1942.9}, "y": {"datum": 0.824}, "x2": {"datum": 1945.1}, "y2": {"datum": 0.818}}},
{"data": {"values": [{}]}, "mark": {"type": "rule", "color": "#e0e0e0", "strokeWidth": 1}, "encoding": {"x": {"datum": 1945.1}, "y": {"datum": 0.818}, "x2": {"datum": 1946.9}, "y2": {"datum": 0.799}}},
{"data": {"values": [{}]}, "mark": {"type": "rule", "color": "#e0e0e0", "strokeWidth": 1}, "encoding": {"x": {"datum": 1946.9}, "y": {"datum": 0.799}, "x2": {"datum": 1947.3}, "y2": {"datum": 0.772}}},
{"data": {"values": [{}]}, "mark": {"type": "point", "shape": "M-1,-1L0,0L1,-1", "size": 30, "filled": false, "stroke": "#e0e0e0", "strokeWidth": 1, "opacity": 1}, "encoding": {"x": {"datum": 1947.3}, "y": {"datum": 0.772}}},
{"data": {"values": [{}]}, "mark": {"type": "rule", "color": "#eef3c8", "strokeWidth": 1}, "encoding": {"x": {"datum": 1972.8}, "y": {"datum": 0.243}, "x2": {"datum": 1972.8}, "y2": {"datum": 0.32}}},
{"data": {"values": [{}]}, "mark": {"type": "point", "shape": "M-1,-1L0,0L1,-1", "size": 30, "filled": false, "stroke": "#eef3c8", "strokeWidth": 1, "opacity": 1, "angle": 180}, "encoding": {"x": {"datum": 1972.8}, "y": {"datum": 0.32}}},
{"data": {"values": [{}]}, "mark": {"type": "rule", "color": "#eef3c8", "strokeWidth": 1}, "encoding": {"x": {"datum": 1939.9}, "y": {"datum": -0.003}, "x2": {"datum": 1939.9}, "y2": {"datum": 0.06}}},
{"data": {"values": [{}]}, "mark": {"type": "point", "shape": "M-1,-1L0,0L1,-1", "size": 30, "filled": false, "stroke": "#eef3c8", "strokeWidth": 1, "opacity": 1, "angle": 180}, "encoding": {"x": {"datum": 1939.9}, "y": {"datum": 0.06}}},
{"data": {"values": [{}]}, "mark": {"type": "text", "text": "Fuente One World In Data", "align": "left", "baseline": "middle", "font": "DejaVu Serif", "fontSize": 14.5, "color": "#111111"}, "encoding": {"x": {"datum": 1801.6}, "y": {"datum": -0.231}}}
]
}
]
}
